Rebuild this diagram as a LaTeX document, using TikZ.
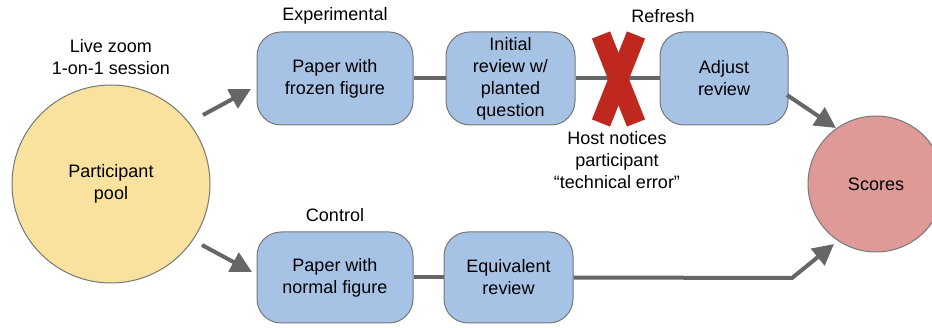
\documentclass[tikz,border=0pt]{standalone}
\usepackage{fontspec}
\setmainfont{Liberation Sans}
\usetikzlibrary{arrows.meta}
\definecolor{boxblue}{HTML}{A6C3E5}
\definecolor{poolyellow}{HTML}{F9E29D}
\definecolor{scorered}{HTML}{DF9A98}
\definecolor{linegray}{HTML}{666666}
\definecolor{edgegray}{HTML}{777777}
\definecolor{xred}{HTML}{BF281E}
\tikzset{
  txt/.style={font=\fontsize{18}{22}\selectfont, align=center, inner sep=0pt},
  stepbox/.style={txt, draw=edgegray, line width=1pt, fill=boxblue, rounded corners=24pt},
  bigcirc/.style={txt, circle, draw=edgegray, line width=1pt},
  conn/.style={draw=linegray, line width=4pt},
  arr/.style={conn, -{Triangle[length=21pt,width=21pt]}},
}
\begin{document}
\begin{tikzpicture}[x=1pt,y=-1pt]
\clip (0,0) rectangle (932,328);
% circles
\node[bigcirc, fill=poolyellow, minimum size=198pt] (pool) at (111,184) {Participant\\pool};
\node[bigcirc, fill=scorered, minimum size=136pt] (scores) at (876,184) {Scores};
\node[txt] (livelbl) at (111,57) {Live zoom\\1-on-1 session};
% boxes
\node[stepbox, minimum width=156pt, minimum height=93pt] (frozen) at (335,78.5) {Paper with\\frozen figure};
\node[stepbox, minimum width=129pt, minimum height=93pt] (initial) at (510.5,78.5) {Initial\\review w/\\planted\\question};
\node[stepbox, minimum width=128pt, minimum height=93pt] (adjust) at (724,78.5) {Adjust\\review};
\node[stepbox, minimum width=156pt, minimum height=91pt] (normal) at (335,277.5) {Paper with\\normal figure};
\node[stepbox, minimum width=129pt, minimum height=91pt] (equiv) at (508.5,277.5) {Equivalent\\review};
% labels
\node[txt] (explbl) at (335,16) {Experimental};
\node[txt] (ctrllbl) at (335,215) {Control};
\node[txt] (reflbl) at (663,16) {Refresh};
\node[txt] (hostlbl) at (617,160) {Host notices\\participant\\“technical error”};
% connectors
\draw[conn] (frozen.east) -- (initial.west);
\draw[conn] (initial.east) -- (adjust.west);
\draw[conn] (normal.east) -- (equiv.west);
\coordinate (a1s) at (203,115);
\coordinate (a1e) at (251,89);
\coordinate (a2s) at (202,245);
\coordinate (a2e) at (252,272);
\coordinate (a3s) at (787,95);
\coordinate (a3e) at (836,128);
\coordinate (bend) at (792,278);
\coordinate (a4e) at (834,244);
\draw[arr] (a1s) -- (a1e);
\draw[arr] (a2s) -- (a2e);
\draw[arr] (a3s) -- (a3e);
\draw[arr, line join=miter] (equiv.east) -- (bend) -- (a4e);
% red X
\draw[xred, line width=19.5pt, line cap=butt] (601,35) -- (636,123);
\draw[xred, line width=19.5pt, line cap=butt] (636,35) -- (601,123);
\end{tikzpicture}
\end{document}
